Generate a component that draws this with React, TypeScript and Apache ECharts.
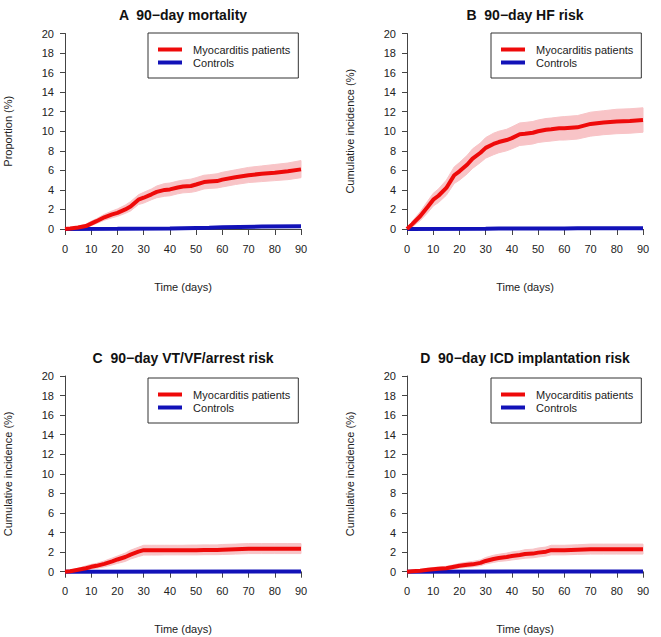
import React, { useEffect, useRef } from "react";
import * as echarts from "echarts";

// ---- data ----
const days = [0, 2, 5, 8, 10, 12, 15, 18, 20, 23, 25, 28, 30, 33, 35, 38, 40, 43, 45, 48, 50, 53, 55, 58, 60, 65, 70, 75, 80, 85, 90];

const titles = ["A  90\u2212day mortality", "B  90\u2212day HF risk", "C  90\u2212day VT/VF/arrest risk", "D  90\u2212day ICD implantation risk"];
const yNames = ["Proportion (%)", "Cumulative incidence (%)", "Cumulative incidence (%)", "Cumulative incidence (%)"];
const xName = "Time (days)";
const legendNames = ["Myocarditis patients", "Controls"];

const aMyo = [0, 0.05, 0.15, 0.3, 0.55, 0.8, 1.2, 1.5, 1.65, 2.0, 2.3, 3.0, 3.2, 3.55, 3.8, 4.0, 4.05, 4.25, 4.35, 4.4, 4.55, 4.8, 4.85, 4.9, 5.05, 5.3, 5.5, 5.65, 5.75, 5.9, 6.1];
const aLow = [0, 0, 0.05, 0.15, 0.35, 0.55, 0.9, 1.15, 1.3, 1.6, 1.85, 2.5, 2.65, 3.0, 3.2, 3.35, 3.4, 3.6, 3.7, 3.75, 3.85, 4.1, 4.15, 4.2, 4.3, 4.55, 4.75, 4.85, 4.95, 5.05, 5.25];
const aHigh = [0, 0.1, 0.3, 0.5, 0.8, 1.05, 1.5, 1.85, 2.05, 2.45, 2.8, 3.5, 3.75, 4.1, 4.4, 4.65, 4.7, 4.9, 5.0, 5.1, 5.25, 5.5, 5.55, 5.65, 5.8, 6.05, 6.3, 6.45, 6.6, 6.75, 7.0];
const aCtrlDays = [0, 20, 40, 55, 60, 75, 90];
const aCtrl = [0, 0.02, 0.05, 0.12, 0.18, 0.25, 0.28];

const bMyo = [0, 0.5, 1.3, 2.3, 3.0, 3.4, 4.2, 5.5, 5.9, 6.6, 7.2, 7.8, 8.3, 8.7, 8.9, 9.1, 9.3, 9.7, 9.75, 9.85, 10.0, 10.15, 10.2, 10.3, 10.3, 10.4, 10.75, 10.9, 11.0, 11.05, 11.15];
const bLow = [0, 0.2, 0.85, 1.7, 2.35, 2.7, 3.45, 4.65, 5.0, 5.65, 6.2, 6.8, 7.25, 7.6, 7.8, 8.0, 8.2, 8.55, 8.6, 8.7, 8.85, 8.95, 9.0, 9.1, 9.1, 9.2, 9.5, 9.65, 9.75, 9.8, 9.9];
const bHigh = [0, 0.8, 1.75, 2.9, 3.65, 4.1, 5.0, 6.35, 6.8, 7.55, 8.2, 8.8, 9.35, 9.8, 10.0, 10.2, 10.45, 10.85, 10.9, 11.0, 11.15, 11.3, 11.35, 11.45, 11.5, 11.6, 11.95, 12.1, 12.25, 12.3, 12.4];
const bCtrlDays = [0, 30, 35, 60, 65, 90];
const bCtrl = [0, 0.02, 0.05, 0.05, 0.08, 0.08];

const cMyo = [0, 0.05, 0.2, 0.35, 0.5, 0.6, 0.8, 1.05, 1.25, 1.5, 1.75, 2.05, 2.2, 2.2, 2.2, 2.2, 2.2, 2.2, 2.2, 2.2, 2.2, 2.22, 2.22, 2.22, 2.25, 2.3, 2.35, 2.35, 2.35, 2.35, 2.35];
const cLow = [0, 0, 0.05, 0.15, 0.3, 0.35, 0.5, 0.7, 0.85, 1.05, 1.3, 1.55, 1.7, 1.7, 1.7, 1.72, 1.72, 1.72, 1.72, 1.72, 1.72, 1.74, 1.74, 1.74, 1.76, 1.8, 1.85, 1.85, 1.85, 1.85, 1.85];
const cHigh = [0, 0.15, 0.35, 0.6, 0.75, 0.85, 1.1, 1.4, 1.6, 1.9, 2.2, 2.5, 2.7, 2.7, 2.7, 2.7, 2.7, 2.7, 2.7, 2.72, 2.72, 2.74, 2.74, 2.74, 2.78, 2.82, 2.88, 2.88, 2.88, 2.88, 2.88];
const cCtrlDays = [0, 90];
const cCtrl = [0, 0.02];

const dMyo = [0, 0.05, 0.1, 0.2, 0.25, 0.3, 0.35, 0.5, 0.6, 0.7, 0.75, 0.9, 1.1, 1.3, 1.4, 1.5, 1.6, 1.7, 1.8, 1.85, 1.95, 2.05, 2.2, 2.2, 2.2, 2.25, 2.3, 2.3, 2.3, 2.3, 2.3];
const dLow = [0, 0, 0.02, 0.08, 0.12, 0.15, 0.2, 0.3, 0.38, 0.45, 0.5, 0.62, 0.78, 0.95, 1.05, 1.12, 1.2, 1.3, 1.38, 1.42, 1.5, 1.6, 1.72, 1.72, 1.72, 1.77, 1.8, 1.8, 1.8, 1.8, 1.8];
const dHigh = [0, 0.12, 0.2, 0.35, 0.42, 0.48, 0.55, 0.72, 0.85, 0.98, 1.05, 1.2, 1.45, 1.68, 1.78, 1.9, 2.02, 2.12, 2.25, 2.3, 2.42, 2.52, 2.7, 2.7, 2.7, 2.75, 2.82, 2.82, 2.82, 2.82, 2.82];
const dCtrlDays = [0, 90];
const dCtrl = [0, 0.02];

const panels = [
  { myo: aMyo, low: aLow, high: aHigh, ctrlDays: aCtrlDays, ctrl: aCtrl },
  { myo: bMyo, low: bLow, high: bHigh, ctrlDays: bCtrlDays, ctrl: bCtrl },
  { myo: cMyo, low: cLow, high: cHigh, ctrlDays: cCtrlDays, ctrl: cCtrl },
  { myo: dMyo, low: dLow, high: dHigh, ctrlDays: dCtrlDays, ctrl: dCtrl },
];

// ---- layout ----
const gridPos = [
  { left: 65, top: 33.5, width: 236, height: 195.5 },
  { left: 407, top: 33.5, width: 236, height: 195.5 },
  { left: 65, top: 376, width: 236, height: 195.7 },
  { left: 407, top: 376, width: 236, height: 195.7 },
];
const titlePos = [
  [183, 15],
  [525, 15],
  [183, 358],
  [525, 358],
];
const legendPos = [
  [148, 33],
  [491, 33],
  [148, 378],
  [491, 378],
];

const RED = "#ee0a0a";
const BLUE = "#1212b8";
const PINK = "#f8c4c7";
const FONT = "Liberation Sans, Arial, sans-serif";

const pairs = (xs: number[], ys: number[]) => xs.map((x, i) => [x, ys[i]]);

export default function App() {
  const ref = useRef<HTMLDivElement>(null);
  useEffect(() => {
    if (!ref.current) return;
    const chart = echarts.init(ref.current, undefined, { renderer: "svg" });

    const grid: any[] = [];
    const xAxis: any[] = [];
    const yAxis: any[] = [];
    const series: any[] = [];
    const legend: any[] = [];
    const graphic: any[] = [];

    panels.forEach((p, i) => {
      grid.push({ ...gridPos[i], containLabel: false });
      xAxis.push({
        type: "value",
        gridIndex: i,
        min: 0,
        max: 90,
        interval: 10,
        name: xName,
        nameLocation: "middle",
        nameGap: 52,
        nameTextStyle: { fontFamily: FONT, fontSize: 11, color: "#222" },
        axisLine: { show: true, onZero: false, lineStyle: { color: "#444", width: 1 } },
        axisTick: { show: true, length: 6, lineStyle: { color: "#444" } },
        axisLabel: { fontFamily: FONT, fontSize: 11, color: "#222", margin: 14 },
        splitLine: { show: false },
      });
      yAxis.push({
        type: "value",
        gridIndex: i,
        min: 0,
        max: 20,
        interval: 2,
        name: yNames[i],
        nameLocation: "middle",
        nameGap: 52,
        nameTextStyle: { fontFamily: FONT, fontSize: 11, color: "#222" },
        axisLine: { show: true, lineStyle: { color: "#444", width: 1 } },
        axisTick: { show: true, length: 5, lineStyle: { color: "#444" } },
        axisLabel: { fontFamily: FONT, fontSize: 11, color: "#222", margin: 11 },
        splitLine: { show: false },
      });
      const low = p.low;
      const high = p.high;
      series.push({
        name: "CI" + i,
        type: "custom",
        xAxisIndex: i,
        yAxisIndex: i,
        data: days.map((d, k) => [d, low[k], high[k]]),
        encode: { x: 0, y: [1, 2] },
        silent: true,
        z: 1,
        renderItem: (params: any, api: any) => {
          if (params.dataIndex !== 0) return null;
          const top = days.map((d, k) => api.coord([d, high[k]]));
          const bottom = days.map((d, k) => api.coord([d, low[k]])).reverse();
          return {
            type: "polygon",
            shape: { points: top.concat(bottom) },
            style: { fill: PINK, stroke: PINK, lineWidth: 1 },
          };
        },
      });
      series.push({
        name: legendNames[1],
        type: "line",
        xAxisIndex: i,
        yAxisIndex: i,
        data: pairs(p.ctrlDays, p.ctrl),
        symbol: "none",
        clip: false,
        color: BLUE,
        lineStyle: { color: BLUE, width: 4 },
        z: 2,
      });
      series.push({
        name: legendNames[0],
        type: "line",
        xAxisIndex: i,
        yAxisIndex: i,
        data: pairs(days, p.myo),
        symbol: "none",
        clip: false,
        color: RED,
        lineStyle: { color: RED, width: 4 },
        z: 3,
      });
      legend.push({
        data: legendNames,
        left: legendPos[i][0],
        top: legendPos[i][1],
        orient: "vertical",
        icon: "rect",
        itemWidth: 24,
        itemHeight: 4,
        itemGap: 2,
        padding: [11, 8, 10, 10],
        borderColor: "#333",
        borderWidth: 1,
        borderRadius: 0,
        backgroundColor: "#fff",
        selectedMode: false,
        formatter: (n: string) => "  " + n,
        textStyle: { fontFamily: FONT, fontSize: 11, color: "#222" },
      });
      graphic.push({
        type: "text",
        x: titlePos[i][0],
        y: titlePos[i][1],
        style: {
          text: titles[i],
          fontFamily: FONT,
          fontSize: 14,
          fontWeight: "bold",
          fill: "#111",
          textAlign: "center",
          textVerticalAlign: "middle",
        },
      });
    });

    chart.setOption({
      animation: false,
      backgroundColor: "#fff",
      grid,
      xAxis,
      yAxis,
      series,
      legend,
      graphic,
    });
    return () => chart.dispose();
  }, []);
  return <div ref={ref} style={{ position: "fixed", left: 0, top: 0, width: 661, height: 637 }} />;
}
